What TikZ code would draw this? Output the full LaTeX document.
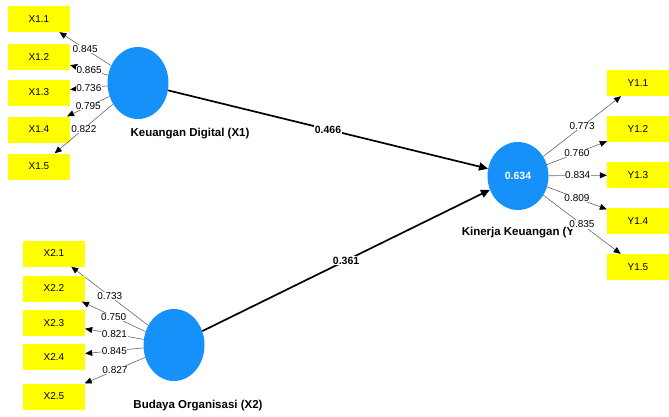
\documentclass[tikz,border=0pt]{standalone}
\usepackage{fontspec}
\setmainfont{Liberation Sans}
\usepackage{xcolor}
\usetikzlibrary{shapes.geometric, arrows.meta, positioning, calc}
\definecolor{lvblue}{RGB}{22,145,250}
\definecolor{mvyellow}{RGB}{255,255,0}

\begin{document}
\begin{tikzpicture}[x=1pt, y=-1pt, >={Triangle[length=9pt,width=8pt]}]
        \tikzstyle{lv} = [ellipse, minimum width=61pt, minimum height=72pt, inner sep=0pt, fill=lvblue, draw=none]
        \tikzstyle{mv} = [rectangle, minimum width=62pt, minimum height=26pt, inner sep=0pt, fill=mvyellow, font=\fontsize{10}{12}\selectfont]
        \tikzstyle{ld} = [draw=black!60, line width=0.6pt, -{Triangle[length=7pt,width=6pt,color=black]}]
        \tikzstyle{ldlbl} = [fill=white, inner sep=0.6pt, font=\fontsize{10}{12}\selectfont]
        \tikzstyle{pth} = [draw=black, line width=1.7pt, ->]
        \tikzstyle{pthlbl} = [fill=white, inner sep=1pt, font=\bfseries\fontsize{10.5}{12}\selectfont]
        \tikzstyle{lvlbl} = [font=\bfseries\fontsize{11.5}{13}\selectfont]

        \useasboundingbox (0,0) rectangle (669,416);

        % Latent variables
        \node (x1) [lv] at (138,83) {};
        \node (x2) [lv] at (174,345) {};
        \node (y) [lv, minimum height=68pt, text=white, font=\bfseries\fontsize{10.5}{12}\selectfont] at (518,176) {0.634};
        \node (x1lab) [lvlbl] at (190,134) {Keuangan Digital (X1)};
        \node (x2lab) [lvlbl] at (198,406) {Budaya Organisasi (X2)};
        \node (ylab) [lvlbl] at (518,233) {Kinerja Keuangan (Y};

        % Indicators with loadings
        \foreach \i/\y/\l in {1/19/0.845, 2/57/0.865, 3/92.5/0.736, 4/129.5/0.795, 5/166.5/0.822} {
            \node (x1\i) [mv] at (39,\y) {X1.\i};
            \draw [ld] (x1) -- node [ldlbl] {\l} (x1\i);
        }
        \foreach \i/\y/\l in {1/253.5/0.733, 2/288.5/0.750, 3/323/0.821, 4/356.5/0.845, 5/396.5/0.827} {
            \node (x2\i) [mv] at (54,\y) {X2.\i};
            \draw [ld] (x2) -- node [ldlbl] {\l} (x2\i);
        }
        \foreach \i/\y/\l in {1/83/0.773, 2/129/0.760, 3/175/0.834, 4/221/0.809, 5/267/0.835} {
            \node (y1\i) [mv] at (638,\y) {Y1.\i};
            \draw [ld] (y) -- node [ldlbl] {\l} (y1\i);
        }

        % Path coefficients
        \draw [pth] (x1) -- node [pthlbl] {0.466} (y);
        \draw [pth] (x2) -- node [pthlbl] {0.361} (y);
    \end{tikzpicture}
\end{document}
